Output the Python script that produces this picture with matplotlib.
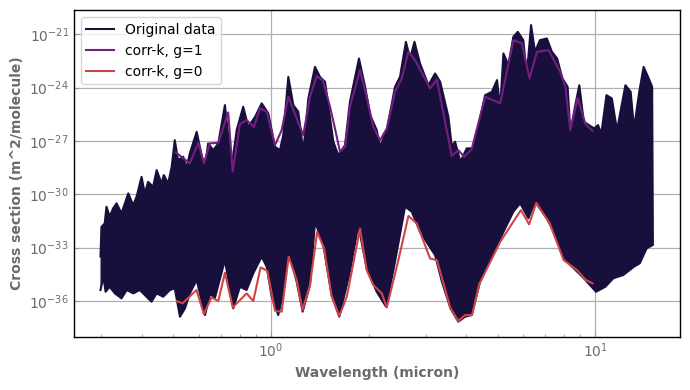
import numpy as np
import matplotlib
matplotlib.use('Agg')
import matplotlib.pyplot as plt
from matplotlib.ticker import LogLocator, NullLocator

DARK = '#180f3d'
PURPLE = '#721f81'
RED = '#cf4446'
GREY = '#6b6b6b'

# Original data: spiky upper and lower edge of the line-by-line spectrum
# (wavelength in micron, log10 of cross section)
upper_wl = [0.298, 0.300, 0.307, 0.311, 0.318, 0.326, 0.334, 0.346, 0.363, 0.376,
            0.385, 0.399, 0.408, 0.418, 0.433, 0.444, 0.460, 0.467, 0.482, 0.494,
            0.505, 0.517, 0.536, 0.549, 0.562, 0.590, 0.611, 0.626, 0.640, 0.664,
            0.688, 0.721, 0.756, 0.784, 0.821, 0.851, 0.893, 0.936, 0.981, 1.029,
            1.066, 1.091, 1.131, 1.172, 1.214, 1.258, 1.304, 1.367, 1.416, 1.468,
            1.557, 1.613, 1.692, 1.752, 1.868, 1.951, 2.022, 2.119, 2.169, 2.276,
            2.413, 2.500, 2.607, 2.685, 2.770, 2.882, 3.059, 3.207, 3.325, 3.526,
            3.609, 3.697, 3.839, 4.015, 4.211, 4.414, 4.575, 4.80, 4.98, 5.09,
            5.21, 5.40, 5.59, 5.77, 6.00, 6.15, 6.34, 6.52, 6.75, 7.09,
            7.35, 7.63, 7.92, 8.22, 8.38, 8.68, 8.93, 9.22, 9.56, 9.93,
            10.20, 10.44, 10.83, 11.25, 11.67, 12.39, 12.86, 13.17, 13.67, 14.10,
            14.62, 14.98, 15.06]
upper_log = [-33.5, -31.83, -31.64, -30.70, -31.26, -30.79, -30.51, -31.07, -29.95, -30.61,
             -30.14, -29.02, -29.95, -29.30, -29.58, -28.64, -29.39, -28.92, -29.39, -28.46,
             -26.96, -28.08, -27.89, -28.54, -27.70, -26.49, -27.80, -28.46, -27.14, -27.52,
             -27.14, -24.99, -28.46, -26.39, -25.08, -26.21, -25.65, -24.89, -25.45, -27.33,
             -27.52, -26.67, -23.40, -24.99, -25.36, -27.61, -24.61, -22.84, -23.40, -23.68,
             -27.05, -27.80, -27.24, -24.80, -22.37, -23.96, -25.55, -26.39, -27.33, -26.39,
             -23.96, -23.40, -21.43, -22.37, -21.43, -22.65, -23.87, -23.21, -23.68, -25.65,
             -27.30, -27.05, -28.17, -27.42, -27.42, -25.74, -24.43, -24.24, -23.58, -25.17,
             -22.08, -22.74, -21.15, -20.87, -21.34, -23.30, -20.49, -21.99, -21.34, -21.24,
             -21.99, -22.37, -23.49, -23.96, -26.49, -24.99, -23.87, -25.93, -26.11, -26.30,
             -26.11, -26.60, -24.43, -24.61, -26.40, -23.87, -24.24, -26.30, -24.24, -22.84,
             -23.49, -23.96, -32.5]

lower_wl = [0.298, 0.304, 0.309, 0.318, 0.330, 0.346, 0.359, 0.376, 0.394, 0.408,
            0.428, 0.444, 0.465, 0.488, 0.505, 0.524, 0.543, 0.562, 0.590, 0.626,
            0.649, 0.671, 0.721, 0.765, 0.802, 0.841, 0.882, 0.936, 0.970, 1.005,
            1.053, 1.091, 1.131, 1.200, 1.252, 1.319, 1.367, 1.450, 1.538, 1.624,
            1.752, 1.859, 1.973, 2.119, 2.264, 2.413, 2.591, 2.717, 2.882, 3.059,
            3.207, 3.366, 3.577, 3.782, 3.968, 4.157, 4.414, 4.98, 5.59, 5.87,
            6.22, 6.52, 7.09, 7.63, 7.99, 8.58, 9.22, 10.06, 10.74, 11.37,
            12.20, 13.17, 13.72, 14.40, 15.06]
lower_log = [-35.38, -34.63, -35.48, -35.20, -35.57, -35.85, -35.38, -35.57, -35.38, -35.66,
             -36.04, -35.57, -35.76, -35.38, -35.29, -36.88, -36.41, -35.57, -34.82, -36.79,
             -35.57, -35.85, -33.70, -36.41, -35.20, -35.38, -34.44, -33.51, -34.07, -35.76,
             -36.79, -35.57, -33.13, -34.91, -36.60, -35.10, -31.54, -32.85, -35.66, -36.88,
             -34.35, -31.73, -34.16, -35.48, -36.32, -33.79, -30.70, -30.98, -32.11, -32.85,
             -33.42, -34.91, -36.41, -37.16, -36.88, -36.79, -34.91, -32.85, -30.98, -30.51,
             -31.35, -30.42, -31.35, -32.48, -33.60, -34.16, -34.72, -35.48, -35.20, -34.72,
             -34.54, -34.07, -33.88, -33.04, -32.85]

# corr-k, g=1
g1_wl = [0.509, 0.562, 0.597, 0.621, 0.648, 0.688, 0.738, 0.762, 0.802, 0.841,
         0.886, 0.925, 0.970, 1.029, 1.079, 1.131, 1.200, 1.258, 1.319, 1.383,
         1.444, 1.521, 1.575, 1.633, 1.692, 1.752, 1.882, 1.973, 2.068, 2.169,
         2.276, 2.413, 2.530, 2.654, 2.782, 3.095, 3.248, 3.609, 3.782, 3.940,
         4.157, 4.575, 5.094, 5.593, 5.940, 6.270, 6.610, 7.180, 7.800, 8.090,
         8.380, 8.830, 9.330, 9.810]
g1_log = [-27.65, -28.26, -27.11, -28.26, -27.14, -27.11, -25.40, -28.73, -26.06, -25.83,
          -26.21, -25.17, -25.36, -27.24, -26.39, -24.52, -25.74, -26.67, -24.52, -23.36,
          -23.58, -25.08, -26.30, -27.61, -27.33, -25.08, -23.02, -24.52, -26.21, -26.96,
          -26.30, -24.24, -23.49, -21.99, -22.46, -24.05, -23.55, -27.85, -27.52, -27.89,
          -27.48, -24.52, -24.89, -21.34, -21.52, -23.49, -21.99, -21.90, -23.12, -23.96,
          -26.40, -24.58, -26.06, -26.43]

# corr-k, g=0
g0_wl = [0.512, 0.534, 0.589, 0.621, 0.656, 0.688, 0.721, 0.762, 0.841, 0.882,
         0.929, 0.974, 1.029, 1.079, 1.134, 1.200, 1.251, 1.319, 1.388, 1.458,
         1.538, 1.624, 1.713, 1.774, 1.882, 1.973, 2.068, 2.196, 2.276, 2.471,
         2.654, 2.816, 3.095, 3.248, 3.577, 3.782, 3.968, 4.170, 4.386, 5.094,
         5.900, 6.250, 6.580, 7.240, 7.990, 8.780, 9.330, 9.810]
g0_log = [-36.00, -36.13, -35.38, -36.73, -35.79, -36.00, -34.41, -36.36, -35.57, -36.00,
          -34.11, -34.30, -36.55, -36.60, -33.51, -34.82, -36.51, -35.10, -32.11, -33.04,
          -35.72, -36.84, -35.76, -34.35, -31.92, -34.26, -35.10, -35.57, -36.36, -33.70,
          -31.22, -31.64, -33.61, -33.70, -36.41, -37.12, -36.79, -36.79, -35.06, -32.67,
          -30.89, -31.69, -30.48, -31.64, -33.70, -34.26, -34.80, -35.01]

fig, ax = plt.subplots(figsize=(6.9, 3.9), dpi=100)
fig.subplots_adjust(left=0.107, right=0.986, top=0.974, bottom=0.136)

poly_x = np.concatenate([upper_wl, lower_wl[::-1]])
poly_y = 10.0 ** np.concatenate([upper_log, lower_log[::-1]])
ax.fill(poly_x, poly_y, color=DARK, lw=0)
ax.plot(poly_x, poly_y, color=DARK, lw=1.5, label='Original data')
ax.plot(g1_wl, 10.0 ** np.array(g1_log), color=PURPLE, lw=1.5, label='corr-k, g=1')
ax.plot(g0_wl, 10.0 ** np.array(g0_log), color=RED, lw=1.5, label='corr-k, g=0')

ax.set_xscale('log')
ax.set_yscale('log')
ax.set_xlim(0.2466, 18.3)
ax.set_ylim(10 ** -38.02, 10 ** -19.65)
ax.set_yticks([10.0 ** e for e in range(-36, -20, 3)])
ax.yaxis.set_minor_locator(NullLocator())
ax.xaxis.set_minor_locator(LogLocator(base=10, subs=np.arange(2, 10)))

ax.grid(True, which='major', color='#b0b0b0', lw=0.9)
ax.set_axisbelow(True)
ax.tick_params(which='both', direction='in', colors=GREY, labelsize=10)
ax.tick_params(which='both', color='#999999')
for s in ax.spines.values():
    s.set_color('black')
    s.set_linewidth(1.0)

ax.set_xlabel('Wavelength (micron)', fontweight='bold', color=GREY, fontsize=10)
ax.set_ylabel('Cross section (m^2/molecule)', fontweight='bold', color=GREY, fontsize=10)
ax.legend(loc='upper left', fontsize=10)

fig.savefig('out.png', dpi=100)
